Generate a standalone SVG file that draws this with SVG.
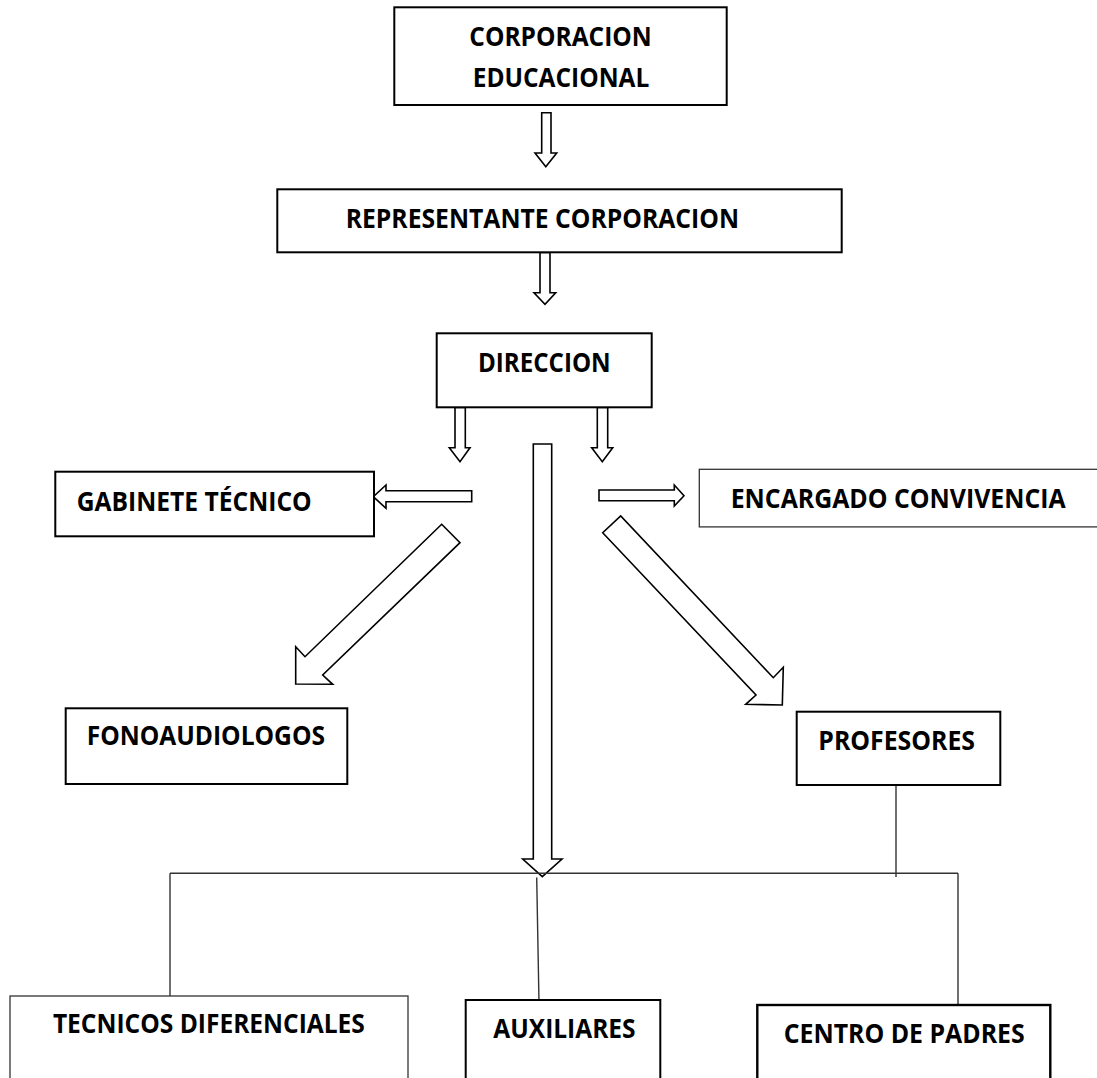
<svg xmlns="http://www.w3.org/2000/svg" width="1097" height="1078" viewBox="0 0 1097 1078">
<style>
.box{fill:#fff;stroke:#000;stroke-width:2}
.thin{fill:#fff;stroke:#333;stroke-width:1.3}
.lbl{font-family:"Open Sans",Lato,"Liberation Sans",sans-serif;font-weight:bold;font-size:27px;fill:#000}
.arr{fill:#fff;stroke:#000;stroke-width:1.6;stroke-linejoin:miter}
.ln{fill:none;stroke:#333;stroke-width:1.4}
</style>
<rect x="0" y="0" width="1097" height="1078" fill="#fff"/>
<g id="connectors">
<polygon class="arr" points="541.7,112.7 551,112.7 551,153 556.7,153 545.8,166.7 535,153 541.7,153"/>
<polygon class="arr" points="540,252.5 550,252.5 550,292.7 555.7,292.7 545,304.3 534,292.7 540,292.7"/>
<polygon class="arr" points="455,407.5 465.3,407.5 465.3,447.7 470,447.7 460,461.7 449.3,447.7 455,447.7"/>
<polygon class="arr" points="597.3,407.5 607.7,407.5 607.7,447.7 612.7,447.7 602.3,461.7 591.7,447.7 597.3,447.7"/>
<polygon class="arr" points="533.3,444 551.7,444 551.7,859 562,859 542.3,876.7 522.7,859 533.3,859"/>
<polygon class="arr" points="471.7,490.7 386,490.7 386,485 373.3,496.7 386,508.3 386,501.7 471.7,501.7"/>
<polygon class="arr" points="599,490 674.3,490 674.3,485 684,495.7 674.3,506 674.3,500.7 599,500.7"/>
<polygon class="arr" points="441.7,524.3 305,656.7 295.7,646.7 295.7,684 332.7,684.3 322.7,675 460,542.7"/>
<polygon class="arr" points="602.7,532.7 756,695 745.7,704.3 782.3,705 783.3,667.3 773.3,677.7 620.7,516"/>
<line class="ln" x1="896" y1="785" x2="896" y2="877"/>
<line class="ln" x1="170" y1="873.3" x2="958" y2="873.3"/>
<line class="ln" x1="170" y1="873.3" x2="170" y2="1002"/>
<line class="ln" x1="958" y1="873.3" x2="958" y2="1005"/>
<line class="ln" x1="536.7" y1="877.5" x2="539" y2="1003"/>
</g>
<g id="corporacion">
<rect class="box" x="394.3" y="7.3" width="332.4" height="97.7"/>
<text class="lbl" x="469.3" y="45.7" textLength="182.4" lengthAdjust="spacingAndGlyphs">CORPORACION</text>
<text class="lbl" x="472.7" y="87.3" textLength="176.6" lengthAdjust="spacingAndGlyphs">EDUCACIONAL</text>
</g>
<g id="representante">
<rect class="box" x="277.3" y="189.3" width="564.4" height="63"/>
<text class="lbl" x="345.7" y="227.7" textLength="393.3" lengthAdjust="spacingAndGlyphs">REPRESENTANTE CORPORACION</text>
</g>
<g id="direccion">
<rect class="box" x="436.7" y="333.3" width="215" height="74"/>
<text class="lbl" x="478" y="371.7" textLength="132.7" lengthAdjust="spacingAndGlyphs">DIRECCION</text>
</g>
<g id="gabinete">
<rect class="box" x="55.3" y="471.7" width="318.7" height="64.6"/>
<text class="lbl" x="76.7" y="510.7" textLength="235" lengthAdjust="spacingAndGlyphs">GABINETE TÉCNICO</text>
</g>
<g id="encargado">
<rect class="thin" x="699.3" y="469.3" width="420" height="57.6"/>
<text class="lbl" x="730.7" y="508.3" textLength="335" lengthAdjust="spacingAndGlyphs">ENCARGADO CONVIVENCIA</text>
</g>
<g id="fonoaudiologos">
<rect class="box" x="65.7" y="708.3" width="281.6" height="75.7"/>
<text class="lbl" x="86.7" y="745" textLength="238.3" lengthAdjust="spacingAndGlyphs">FONOAUDIOLOGOS</text>
</g>
<g id="profesores">
<rect class="box" x="796.7" y="711.7" width="203.6" height="73.3"/>
<text class="lbl" x="818.3" y="750" textLength="156.7" lengthAdjust="spacingAndGlyphs">PROFESORES</text>
</g>
<g id="tecnicos">
<rect class="thin" x="10" y="996" width="398" height="120"/>
<text class="lbl" x="52.9" y="1033.3" textLength="312" lengthAdjust="spacingAndGlyphs">TECNICOS DIFERENCIALES</text>
</g>
<g id="auxiliares">
<rect class="box" x="465.7" y="1000" width="194.6" height="120"/>
<text class="lbl" x="493.3" y="1038.3" textLength="142.3" lengthAdjust="spacingAndGlyphs">AUXILIARES</text>
</g>
<g id="centro">
<rect class="box" x="757.3" y="1005" width="293" height="120" style="stroke-width:2.4"/>
<text class="lbl" x="783.7" y="1043.3" textLength="241" lengthAdjust="spacingAndGlyphs">CENTRO DE PADRES</text>
</g>
</svg>
